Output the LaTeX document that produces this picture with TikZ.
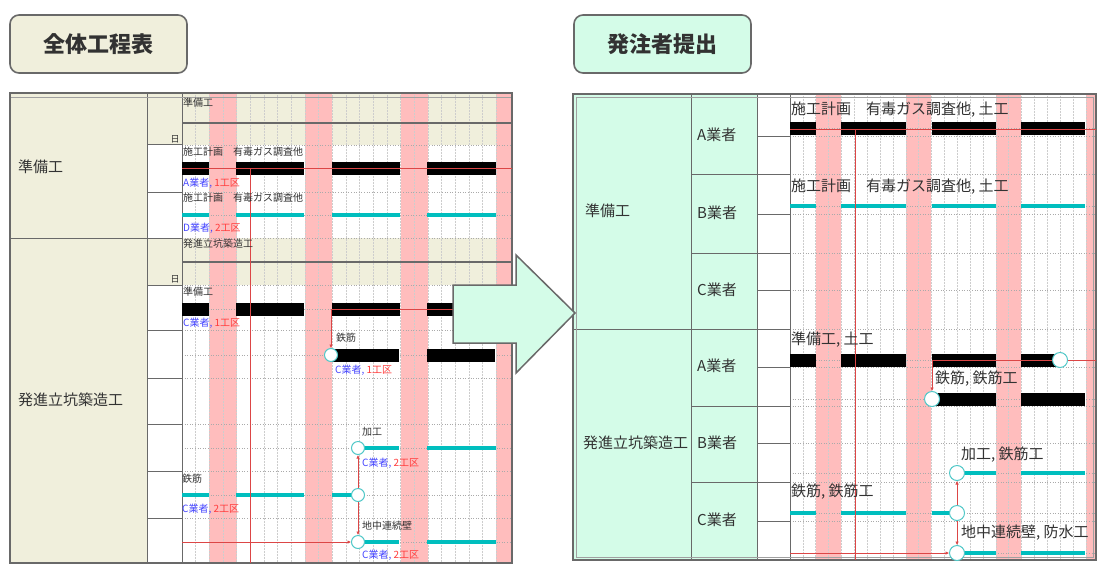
\documentclass[tikz,border=0pt]{standalone}
\usepackage{fontspec}
\setmainfont{Noto Sans CJK JP}
\usetikzlibrary{arrows.meta}
\definecolor{beige}{RGB}{240,239,220}
\definecolor{mint}{RGB}{212,252,232}
\definecolor{pinkb}{RGB}{255,189,189}
\definecolor{cyanb}{RGB}{0,190,190}
\definecolor{msline}{RGB}{80,200,200}
\definecolor{bgray}{RGB}{105,105,105}
\definecolor{lgray}{RGB}{160,160,160}
\definecolor{gridc}{RGB}{205,205,205}
\definecolor{gridh}{RGB}{170,170,170}
\definecolor{tblue}{RGB}{70,70,255}
\definecolor{tred}{RGB}{255,60,60}
\definecolor{rline}{RGB}{220,70,70}
\definecolor{tgray}{RGB}{50,50,50}
\newcommand\blkbar[3]{\fill[black] (#1,#3-6.5) rectangle (#2,#3+6.5);}
\newcommand\cyabar[3]{\fill[cyanb] (#1,#3-1.6) rectangle (#2,#3+1.6);}
\begin{document}
\begin{tikzpicture}[x=1pt,y=-1pt,
  titlebox/.style={draw=bgray, line width=1.6pt, rounded corners=9pt, minimum width=177pt, minimum height=58pt, font=\fontsize{22}{26}\selectfont\bfseries, text=tgray},
  tline/.style={draw=bgray, line width=1pt},
  gridv/.style={draw=gridc, densely dotted, line width=0.5pt},
  gridhz/.style={draw=gridh, dotted, line width=0.6pt},
  ltxt/.style={anchor=west, inner sep=0pt, font=\fontsize{10}{12}\selectfont, text=tgray},
  rtxt/.style={anchor=west, inner sep=0pt, font=\fontsize{15}{18}\selectfont, text=tgray},
  lab/.style={anchor=west, inner sep=0pt, font=\fontsize{15}{18}\selectfont, text=tgray},
  daymark/.style={inner sep=0pt, font=\fontsize{9}{10}\selectfont, text=tgray},
  msl/.style={circle, draw=msline, fill=white, line width=1pt, minimum size=13pt, inner sep=0pt},
  msr/.style={circle, draw=msline, fill=white, line width=1pt, minimum size=15pt, inner sep=0pt},
  rthin/.style={draw=rline, line width=0.6pt},
  rarr/.style={draw=rline, line width=0.6pt, -{Latex[length=3.5pt,width=3.5pt]}},
]
\useasboundingbox (0,0) rectangle (1105,573);
\fill[white] (0,0) rectangle (1105,573);

% ---------------- titles
\node[titlebox, fill=beige] (t1) at (98.5,44) {全体工程表};
\node[titlebox, fill=mint] (t2) at (662.5,44) {発注者提出};

% ================= LEFT TABLE
\fill[beige] (10,93) rectangle (147,563);
\fill[white] (147,93) rectangle (512,563);
\fill[beige] (147,93) rectangle (512,145);
\fill[beige] (147,238) rectangle (512,285);
\begin{scope}
\clip (182,93) rectangle (512,563);
\foreach \d in {2,9,16,23} {\fill[pinkb] ({182+\d*13.667},93) rectangle ({182+(\d+2)*13.667},563);}
\foreach \i in {1,...,23} {\draw[gridv] ({182+\i*13.667},93) -- ({182+\i*13.667},563);}
\end{scope}
\foreach \yy in {145,192,238,285,330,378,424,471,518,168,215,309,355,448,495,542} {\draw[gridhz] (182,\yy) -- (512,\yy);}
\draw[tline, line width=1.3pt] (182,123) -- (512,123);
\draw[tline, line width=1.3pt] (182,262) -- (512,262);
\draw[tline] (147,93) -- (147,563);
\draw[tline] (182,93) -- (182,563);
\foreach \yy in {144,192,285,330,378,424,471,518} {\draw[tline] (147,\yy) -- (182,\yy);}
\draw[tline] (10,238) -- (182,238);
\draw[draw=lgray, line width=0.8pt] (10,97) -- (512,97);
\draw[tline, line width=1.5pt] (10,93) rectangle (512,563);
\node[daymark] (d1) at (175,139) {日};
\node[daymark] (d2) at (175,279) {日};
\node[lab] (L1) at (18,167) {準備工};
\node[lab] (L2) at (18,400) {発進立坑築造工};

% bars left
\blkbar{182}{209}{168}\blkbar{236}{304}{168}\blkbar{332}{400}{168}\blkbar{427}{496}{168}
\cyabar{182}{209}{215}\cyabar{236}{304}{215}\cyabar{332}{400}{215}\cyabar{427}{496}{215}
\blkbar{182}{209}{309}\blkbar{236}{304}{309}\blkbar{332}{400}{309}\blkbar{427}{496}{309}
\blkbar{331}{399}{355}\blkbar{427}{495}{355}
\cyabar{358}{399}{448}\cyabar{427}{496}{448}
\cyabar{182}{209}{495}\cyabar{236}{304}{495}\cyabar{332}{353}{495}
\cyabar{358}{399}{542}\cyabar{427}{496}{542}
% red lines left
\draw[rthin] (182,168.5) -- (512,168.5);
\draw[rthin] (250,168.5) -- (250,563);
\draw[rthin] (331,309) -- (512,309);
\coordinate (la) at (331,309);
\coordinate (lb) at (182,542);
\node[msl] (lm1) at (331,355) {};
\node[msl] (lm2) at (358,448) {};
\node[msl] (lm3) at (358,495) {};
\node[msl] (lm4) at (358,542) {};
\draw[rarr] (la) -- (lm1);
\draw[rarr] (lb) -- (lm4);
\draw[rarr] (lm3) -- (lm2);
\draw[rarr] (lm3) -- (lm4);
% texts left
\node[ltxt] (lt1) at (183,103) {準備工};
\node[ltxt] (lt2) at (183,152) {施工計画　有毒ガス調査他};
\node[ltxt] (lt3) at (183,183) {\textcolor{tblue}{A業者,} \textcolor{tred}{1工区}};
\node[ltxt] (lt4) at (183,198) {施工計画　有毒ガス調査他};
\node[ltxt] (lt5) at (183,228) {\textcolor{tblue}{D業者,} \textcolor{tred}{2工区}};
\node[ltxt] (lt6) at (183,244) {発進立坑築造工};
\node[ltxt] (lt7) at (183,292) {準備工};
\node[ltxt] (lt8) at (183,323) {\textcolor{tblue}{C業者,} \textcolor{tred}{1工区}};
\node[ltxt] (lt9) at (336,338) {鉄筋};
\node[ltxt] (lt10) at (335,370) {\textcolor{tblue}{C業者,} \textcolor{tred}{1工区}};
\node[ltxt] (lt11) at (362,432) {加工};
\node[ltxt] (lt12) at (362,463) {\textcolor{tblue}{C業者,} \textcolor{tred}{2工区}};
\node[ltxt] (lt13) at (182,479) {鉄筋};
\node[ltxt] (lt14) at (182,509) {\textcolor{tblue}{C業者,} \textcolor{tred}{2工区}};
\node[ltxt] (lt15) at (362,526) {地中連続壁};
\node[ltxt] (lt16) at (362,555) {\textcolor{tblue}{C業者,} \textcolor{tred}{2工区}};

% ================= RIGHT TABLE
\fill[mint] (573,94) rectangle (757,560);
\fill[white] (757,94) rectangle (1096,560);
\begin{scope}
\clip (790,94) rectangle (1096,560);
\foreach \d in {2,9,16,23} {\fill[pinkb] ({790+\d*12.86},94) rectangle ({790+(\d+2)*12.86},560);}
\foreach \i in {1,...,23} {\draw[gridv] ({790+\i*12.86},94) -- ({790+\i*12.86},560);}
\end{scope}
\foreach \yy in {136,174,214,253,290,329,367,406,443,482,521,128.5,206,360,399,473,513,553} {\draw[gridhz] (790,\yy) -- (1096,\yy);}
\draw[tline] (691,94) -- (691,560);
\draw[tline] (757,94) -- (757,560);
\draw[tline] (790,94) -- (790,560);
\foreach \yy in {174,253,406,482} {\draw[tline] (691,\yy) -- (790,\yy);}
\foreach \yy in {136,214,290,367,443,521} {\draw[tline] (757,\yy) -- (790,\yy);}
\draw[tline] (573,329) -- (790,329);
\draw[draw=lgray, line width=0.8pt] (576,97) rectangle (1093,557);
\draw[tline, line width=1.5pt] (573,94) rectangle (1096,560);
\node[lab] (R1) at (585,211) {準備工};
\node[lab] (R2) at (583,443) {発進立坑築造工};
\node[lab] (R3) at (697,135) {A業者};
\node[lab] (R4) at (697,213) {B業者};
\node[lab] (R5) at (697,290) {C業者};
\node[lab] (R6) at (697,366) {A業者};
\node[lab] (R7) at (697,443) {B業者};
\node[lab] (R8) at (697,520) {C業者};

% bars right
\blkbar{790}{816}{128.5}\blkbar{841}{906}{128.5}\blkbar{932}{996}{128.5}\blkbar{1021}{1085}{128.5}
\cyabar{790}{816}{206}\cyabar{841}{906}{206}\cyabar{932}{996}{206}\cyabar{1021}{1085}{206}
\blkbar{790}{816}{360}\blkbar{841}{906}{360}\blkbar{932}{996}{360}\blkbar{1021}{1060}{360}
\blkbar{932}{996}{399}\blkbar{1021}{1085}{399}
\cyabar{957}{996}{473}\cyabar{1021}{1085}{473}
\cyabar{790}{816}{513}\cyabar{841}{906}{513}\cyabar{932}{957}{513}
\cyabar{957}{996}{553}\cyabar{1021}{1085}{553}
% red lines right
\draw[rthin] (790,129) -- (1096,129);
\draw[rthin] (855,129) -- (855,560);
\draw[rthin] (932,360) -- (1096,360);
\coordinate (ra) at (932,360);
\coordinate (rb) at (790,553);
\node[msr] (rm0) at (1060,360) {};
\node[msr] (rm1) at (932,399) {};
\node[msr] (rm2) at (957,473) {};
\node[msr] (rm3) at (957,513) {};
\node[msr] (rm4) at (957,553) {};
\draw[rarr] (ra) -- (rm1);
\draw[rarr] (rb) -- (rm4);
\draw[rarr] (rm3) -- (rm2);
\draw[rarr] (rm3) -- (rm4);
% texts right
\node[rtxt] (rt1) at (791,110) {施工計画　有毒ガス調査他, 土工};
\node[rtxt] (rt2) at (791,187) {施工計画　有毒ガス調査他, 土工};
\node[rtxt] (rt3) at (791,340) {準備工, 土工};
\node[rtxt] (rt4) at (935,379) {鉄筋, 鉄筋工};
\node[rtxt] (rt5) at (961,455) {加工, 鉄筋工};
\node[rtxt] (rt6) at (791,492) {鉄筋, 鉄筋工};
\node[rtxt] (rt7) at (961,533) {地中連続壁, 防水工};

% ================= big arrow
\draw[draw=bgray, line width=1.5pt, fill=mint, line join=miter] (453,285) -- (516,285) -- (516,255) -- (575,313) -- (516,373) -- (516,343) -- (453,343) -- cycle;
\end{tikzpicture}
\end{document}
